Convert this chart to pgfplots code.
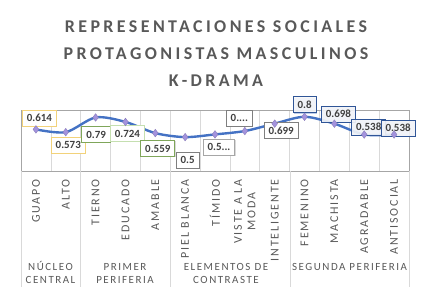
\documentclass[border=0pt]{standalone}
\usepackage{pgfplots}
\pgfplotsset{compat=1.18}
\usepackage{fontspec}
\usetikzlibrary{shadows}
\setmainfont{Carlito}
\newfontfamily\spacedfont[LetterSpace=14]{Carlito}
\newfontfamily\tickfont[LetterSpace=16]{Carlito}
\newfontfamily\titlefont[LetterSpace=19]{Carlito}
\definecolor{txt}{HTML}{595959}
\definecolor{lbltxt}{HTML}{404040}
\definecolor{linec}{HTML}{4472C4}
\definecolor{lav}{HTML}{A393DD}
\definecolor{yel}{HTML}{F2D27A}
\definecolor{grn}{HTML}{7FA65A}
\definecolor{lgrn}{HTML}{C5DFB0}
\definecolor{gry}{HTML}{7F7F7F}
\definecolor{lgry}{HTML}{A6A6A6}
\definecolor{blu}{HTML}{2F5597}
\definecolor{sepc}{HTML}{D9D9D9}
\begin{document}
\begin{tikzpicture}
\useasboundingbox (0,0) rectangle (434bp,305bp);
\fill[white] (0,0) rectangle (434bp,305bp);
\tikzset{ttl/.style={anchor=base, text=txt, font=\titlefont\bfseries\fontsize{18}{22}\selectfont, inner sep=0pt}}
\node[ttl] at (216bp,272bp) {REPRESENTACIONES SOCIALES};
\node[ttl] at (216bp,245bp) {PROTAGONISTAS MASCULINOS};
\node[ttl] at (216bp,218bp) {K-DRAMA};
\begin{axis}[
  at={(21bp,134bp)}, anchor=south west,
  scale only axis, width=388bp, height=61bp,
  xmin=-0.5, xmax=12.5, ymin=0, ymax=0.9,
  xtick={0,...,12},
  xticklabels={GUAPO,ALTO,TIERNO,EDUCADO,AMABLE,PIEL BLANCA,TÍMIDO,{VISTE A LA\\MODA},INTELIGENTE,FEMENINO,MACHISTA,AGRADABLE,ANTISOCIAL},
  ytick=\empty,
  minor xtick={0.5,1.5,...,11.5},
  xminorgrids, minor grid style={draw=sepc, line width=0.6bp},
  major tick length=0pt, minor tick length=0pt,
  axis line style={draw=lgry, line width=0.7bp},
  xticklabel shift=8bp,
  x tick label style={rotate=90, anchor=east, align=center, inner sep=0pt, text=txt,
     font=\tickfont\fontsize{12}{13.5}\selectfont},
  clip=false,
]
\addplot[smooth, color=linec, line width=2.4bp, mark=diamond*, mark size=3.8bp,
  mark options={fill=lav, draw=lav!85!black, line width=0.4bp}]
  coordinates {(0,0.614) (1,0.573) (2,0.79) (3,0.724) (4,0.559) (5,0.5) (6,0.54) (7,0.59) (8,0.699) (9,0.8) (10,0.698) (11,0.538) (12,0.538)};
\tikzset{lbl/.style={fill=white, line width=0.9bp, text=lbltxt, font=\bfseries\fontsize{11}{13}\selectfont,
   inner xsep=4.5bp, inner ysep=4.2bp, text height=7.6bp, text depth=0bp,
   drop shadow={shadow xshift=0.8bp, shadow yshift=-0.8bp, fill=black, opacity=0.15}},
   blbl/.style={lbl, draw=blu, fill opacity=0.85, text opacity=1,
   drop shadow={shadow xshift=0.6bp, shadow yshift=-1.2bp, fill=linec, opacity=0.35}}}
\node[lbl, draw=yel, xshift=3.5bp, yshift=11.4bp] at (axis cs:0,0.614) {0.614};
\node[lbl, draw=yel, xshift=2.5bp, yshift=-12.8bp] at (axis cs:1,0.573) {0.573};
\node[lbl, draw=grn, xshift=0.5bp, yshift=-17bp] at (axis cs:2,0.79) {0.79};
\node[lbl, draw=lgrn, xshift=2bp, yshift=-11.6bp] at (axis cs:3,0.724) {0.724};
\node[lbl, draw=grn, xshift=2.5bp, yshift=-15.4bp] at (axis cs:4,0.559) {0.559};
\node[lbl, draw=gry, xshift=2.5bp, yshift=-23bp] at (axis cs:5,0.5) {0.5};
\node[lbl, draw=lgry, xshift=4bp, yshift=-12.6bp] at (axis cs:6,0.54) {0.5...};
\node[lbl, draw=gry, xshift=-5.5bp, yshift=13bp] at (axis cs:7,0.59) {0....};
\node[lbl, draw=gry, xshift=6.5bp, yshift=-7bp] at (axis cs:8,0.699) {0.699};
\node[blbl, xshift=0bp, yshift=12.3bp] at (axis cs:9,0.8) {0.8};
\node[blbl, xshift=4bp, yshift=9.7bp] at (axis cs:10,0.698) {0.698};
\node[blbl, xshift=4.5bp, yshift=7.5bp] at (axis cs:11,0.538) {0.538};
\node[blbl, xshift=4bp, yshift=6.5bp] at (axis cs:12,0.538) {0.538};
\end{axis}
\foreach \xx in {21,80,170,290,409} {\draw[sepc, line width=0.7bp] (\xx bp,134bp) -- (\xx bp,18bp);}
\tikzset{grp/.style={anchor=base, text=txt, inner sep=0pt, font=\spacedfont\fontsize{11}{13}\selectfont}}
\node[grp] at (50.5bp,35bp) {NÚCLEO};
\node[grp] at (50.5bp,22bp) {CENTRAL};
\node[grp] at (125bp,35bp) {PRIMER};
\node[grp] at (125bp,22bp) {PERIFERIA};
\node[grp] at (226bp,35bp) {ELEMENTOS DE};
\node[grp] at (226bp,22bp) {CONTRASTE};
\node[grp] at (349.5bp,35bp) {SEGUNDA PERIFERIA};
\end{tikzpicture}
\end{document}
